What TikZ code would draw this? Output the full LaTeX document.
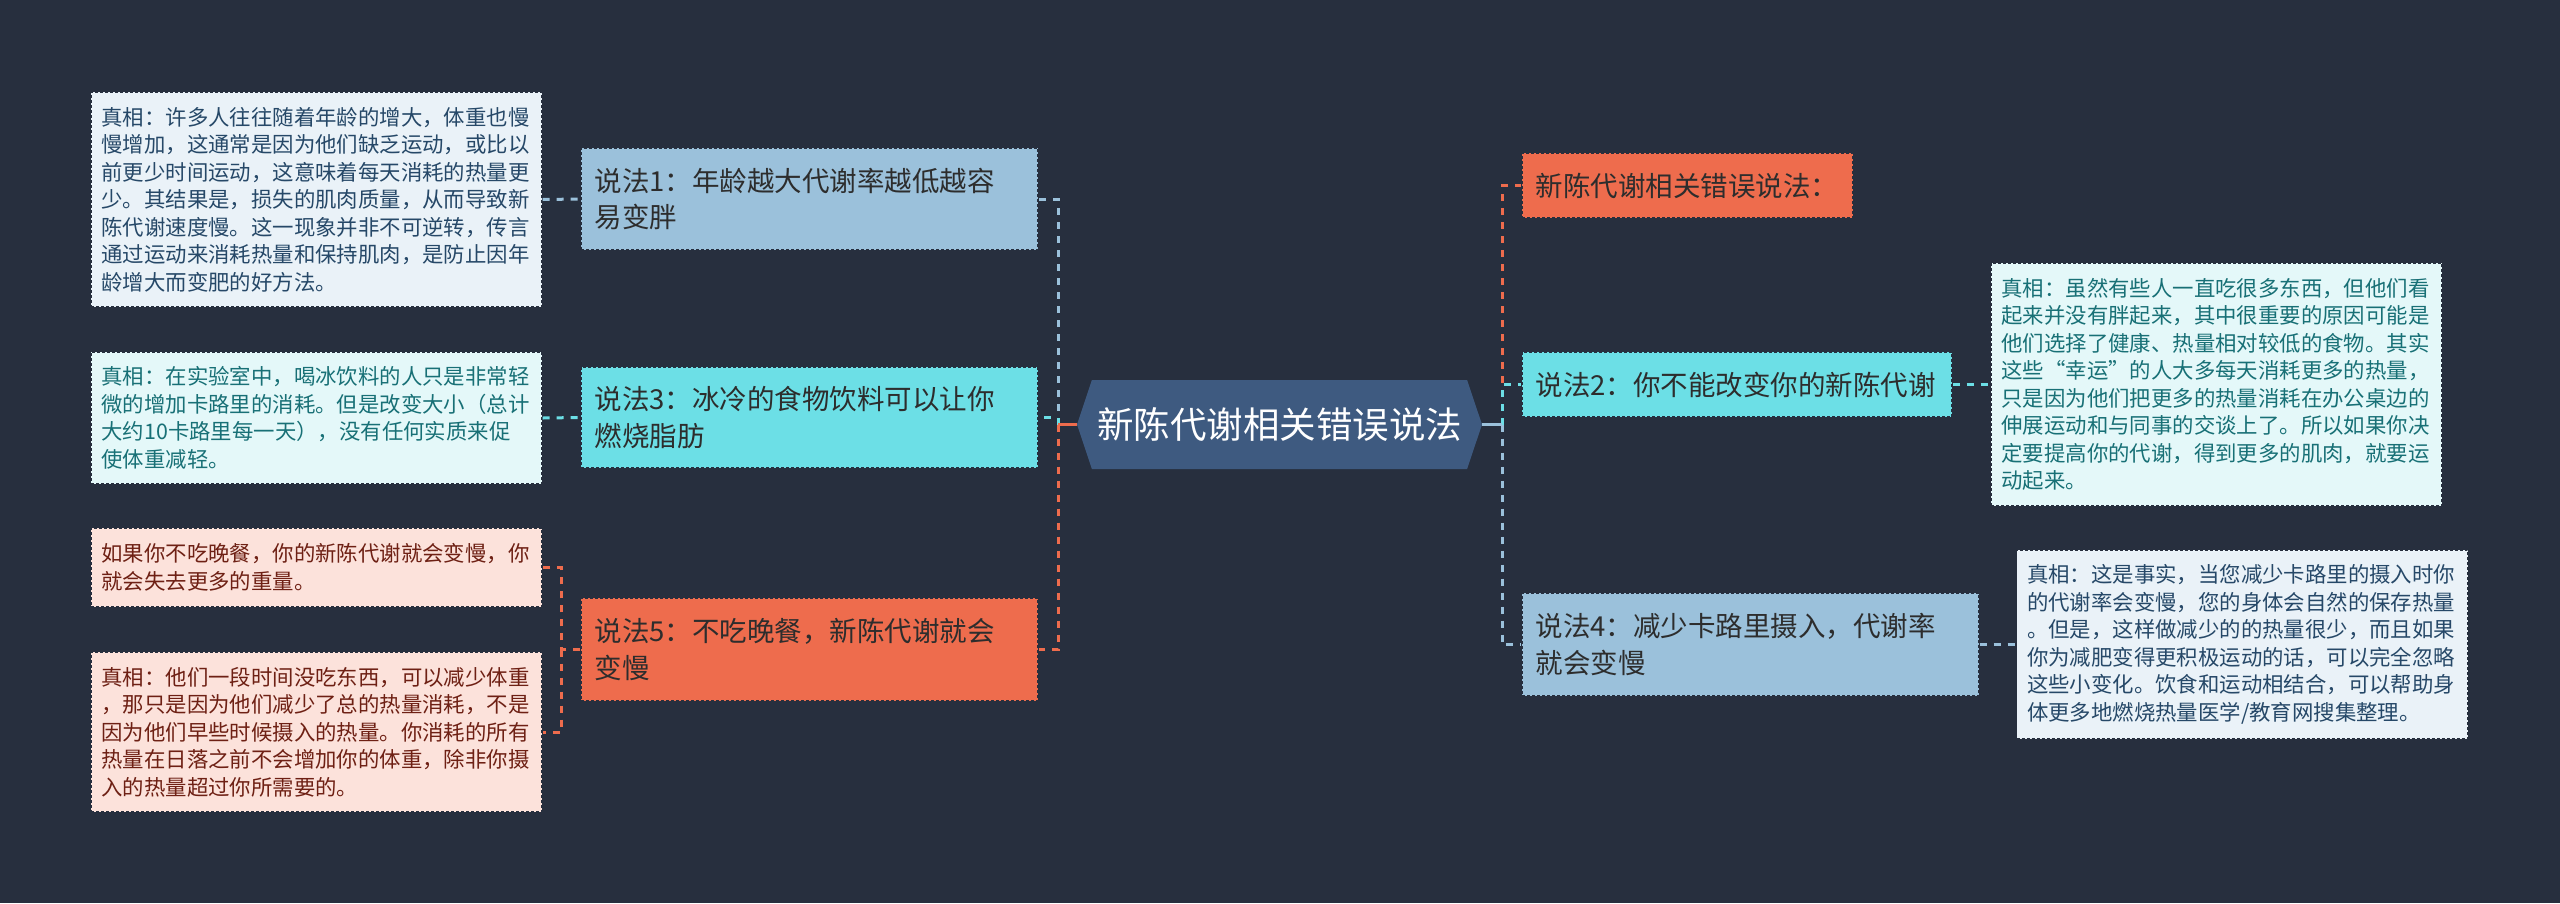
\documentclass[tikz,border=0pt]{standalone}
\usepackage{fontspec}
\setmainfont{Noto Sans CJK SC}
\usepackage{xcolor}
\usepackage{tikz}
\usetikzlibrary{shapes.symbols}
\definecolor{fond}{RGB}{39,47,62}
\definecolor{ardoise}{RGB}{62,90,128}
\definecolor{bleuc}{RGB}{155,193,219}
\definecolor{turq}{RGB}{108,223,230}
\definecolor{corail}{RGB}{238,108,77}
\definecolor{bleup}{RGB}{234,242,248}
\definecolor{turqp}{RGB}{228,248,249}
\definecolor{corailp}{RGB}{252,226,219}
\definecolor{bleut}{RGB}{38,72,104}
\definecolor{turqt}{RGB}{24,112,118}
\definecolor{corailt}{RGB}{110,32,20}
\definecolor{encre}{RGB}{45,45,45}

\begin{document}
\begin{tikzpicture}[x=1pt, y=-1pt,
  c/.style 2 args={rectangle, fill=#1, draw=fond, dash pattern=on 3pt off 2pt, line width=1.2pt,
                   text width=#2, align=left, inner xsep=13.5pt, inner ysep=0pt, text=encre,
                   font=\fontsize{27.5}{36.5}\selectfont},
  v/.style 2 args={rectangle, fill=#1, draw=fond, dash pattern=on 3pt off 2pt, line width=1.2pt,
                   text=#2, text width=430pt, align=left, inner xsep=10.5pt, inner ysep=0pt,
                   font=\fontsize{21.4}{27.5}\selectfont},
  lien/.style={draw=#1, line width=3pt, dash pattern=on 7pt off 7pt}]
\fill[fond] (0,0) rectangle (2560,903);
\node[shape=signal, signal to=west and east, signal pointer angle=143, fill=ardoise, text=white,
      minimum width=405pt, minimum height=89pt, inner sep=0pt,
      font=\fontsize{36.5}{40}\selectfont] (centre) at (1279.5,424.5) {新陈代谢相关错误说法};
\node[c={bleuc}{430pt}, minimum height=102pt] (s1) at (809.5,199) {说法1：年龄越大代谢率越低越容\\易变胖};
\node[c={turq}{430pt}, minimum height=101pt] (s3) at (809.5,417.5) {说法3：冰冷的食物饮料可以让你\\燃烧脂肪};
\node[c={corail}{430pt}, minimum height=103pt] (s5) at (809.5,649.5) {说法5：不吃晚餐，新陈代谢就会\\变慢};
\node[c={corail}{304pt}, minimum height=65pt] (titre) at (1687.5,185.5) {新陈代谢相关错误说法：};
\node[c={turq}{403pt}, minimum height=65pt] (s2) at (1737,384.5) {说法2：你不能改变你的新陈代谢};
\node[c={bleuc}{430pt}, minimum height=103pt] (s4) at (1750.5,644.5) {说法4：减少卡路里摄入，代谢率\\就会变慢};
\node[v={bleup}{bleut}, minimum height=215pt] (t1) at (316.5,199.5) {真相：许多人往往随着年龄的增大，体重也慢\\慢增加，这通常是因为他们缺乏运动，或比以\\前更少时间运动，这意味着每天消耗的热量更\\少。其结果是，损失的肌肉质量，从而导致新\\陈代谢速度慢。这一现象并非不可逆转，传言\\通过运动来消耗热量和保持肌肉，是防止因年\\龄增大而变肥的好方法。};
\node[v={turqp}{turqt}, minimum height=132pt] (t3) at (316.5,418) {真相：在实验室中，喝冰饮料的人只是非常轻\\微的增加卡路里的消耗。但是改变大小（总计\\大约10卡路里每一天），没有任何实质来促\\使体重减轻。};
\node[v={corailp}{corailt}, minimum height=79pt] (t5a) at (316.5,567.5) {如果你不吃晚餐，你的新陈代谢就会变慢，你\\就会失去更多的重量。};
\node[v={corailp}{corailt}, minimum height=160pt] (t5b) at (316.5,732) {真相：他们一段时间没吃东西，可以减少体重\\，那只是因为他们减少了总的热量消耗，不是\\因为他们早些时候摄入的热量。你消耗的所有\\热量在日落之前不会增加你的体重，除非你摄\\入的热量超过你所需要的。};
\node[v={turqp}{turqt}, minimum height=243pt] (t2) at (2216.5,384.5) {真相：虽然有些人一直吃很多东西，但他们看\\起来并没有胖起来，其中很重要的原因可能是\\他们选择了健康、热量相对较低的食物。其实\\这些“幸运”的人大多每天消耗更多的热量，\\只是因为他们把更多的热量消耗在办公桌边的\\伸展运动和与同事的交谈上了。所以如果你决\\定要提高你的代谢，得到更多的肌肉，就要运\\动起来。};
\node[v={bleup}{bleut}, minimum height=189pt] (t4) at (2242,644.5) {真相：这是事实，当您减少卡路里的摄入时你\\的代谢率会变慢，您的身体会自然的保存热量\\。但是，这样做减少的的热量很少，而且如果\\你为减肥变得更积极运动的话，可以完全忽略\\这些小变化。饮食和运动相结合，可以帮助身\\体更多地燃烧热量医学/教育网搜集整理。};
\coordinate (g) at (1058,424.5);
\coordinate (d) at (1502,424.5);
\coordinate (b5) at (561.5,649.5);
\draw[lien=bleuc] (g) |- (s1.east);
\draw[lien=corail] (g) |- (s5.east);
\draw[lien=turq] (g) |- (s3.east);
\draw[corail, line width=3pt] (centre.west) -- (g);
\draw[lien=corail] (d) |- (titre.west);
\draw[lien=bleuc] (d) |- (s4.west);
\draw[lien=turq] (d) |- (s2.west);
\draw[bleuc, line width=3pt] (centre.east) -- (d);
\draw[lien=bleuc] (t1.east) -- (s1.west);
\draw[lien=turq] (t3.east) -- (s3.west);
\draw[lien=turq] (s2.east) -- (t2.west);
\draw[lien=bleuc] (s4.east) -- (t4.west);
\draw[lien=corail] (s5.west) -- (b5) |- (t5a.east);
\draw[lien=corail] (b5) |- (t5b.east);
\end{tikzpicture}
\end{document}
